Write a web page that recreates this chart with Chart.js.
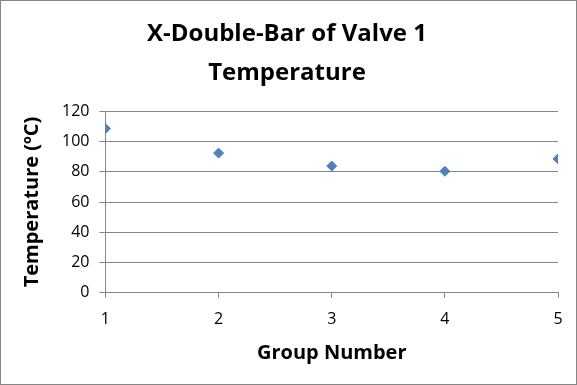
<!DOCTYPE html>
<html>
<head>
<meta charset="utf-8">
<script src="https://cdn.jsdelivr.net/npm/chart.js@4"></script>
<style>
  html, body { margin: 0; padding: 0; background: #fff; }
  #box { width: 575px; height: 383px; border: 1px solid #868686; position: relative; }
</style>
</head>
<body>
<div id="box"><canvas id="chart"></canvas></div>
<script>
// Valeurs
const groups = [1, 2, 3, 4, 5];
const temperatures = [108.5, 92.3, 83.8, 80.3, 88.5];
const titleLines = ['X-Double-Bar of Valve 1', 'Temperature'];

const fontFamily = "'Open Sans', 'Noto Sans', sans-serif";
const gridColor = '#868686';

const points = groups.map((g, i) => ({ x: g, y: temperatures[i] }));

new Chart(document.getElementById('chart'), {
    type: 'scatter',
    data: {
        datasets: [{
            data: points,
            pointStyle: 'rectRot',
            pointRadius: 5,
            backgroundColor: '#4F81BD',
            borderColor: '#4F81BD',
            borderWidth: 1
        }]
    },
    options: {
        responsive: true,
        maintainAspectRatio: false,
        animation: false,
        layout: { padding: { left: 15, right: 18, top: 6, bottom: 15 } },
        plugins: {
            legend: { display: false },
            tooltip: { enabled: false },
            title: {
                display: true,
                text: titleLines,
                color: '#000',
                font: { family: fontFamily, size: 24, weight: 'bold', lineHeight: 1.65 },
                padding: { top: 7, bottom: 18 }
            }
        },
        scales: {
            x: {
                type: 'linear',
                min: 1,
                max: 5,
                ticks: { stepSize: 1, color: '#000', font: { family: fontFamily, size: 16 }, padding: 12 },
                grid: { drawOnChartArea: false, color: gridColor, tickLength: 5 },
                border: { color: gridColor },
                title: {
                    display: true,
                    text: 'Group Number',
                    color: '#000',
                    font: { family: fontFamily, size: 20, weight: 'bold' },
                    padding: { top: 0 }
                }
            },
            y: {
                min: 0,
                max: 120,
                ticks: { stepSize: 20, color: '#000', font: { family: fontFamily, size: 16 }, padding: 10 },
                grid: { color: gridColor, tickLength: 6 },
                border: { color: gridColor },
                title: {
                    display: true,
                    text: 'Temperature (ºC)',
                    color: '#000',
                    font: { family: fontFamily, size: 20, weight: 'bold' },
                    padding: { bottom: 8 }
                }
            }
        }
    }
});
</script>
</body>
</html>
